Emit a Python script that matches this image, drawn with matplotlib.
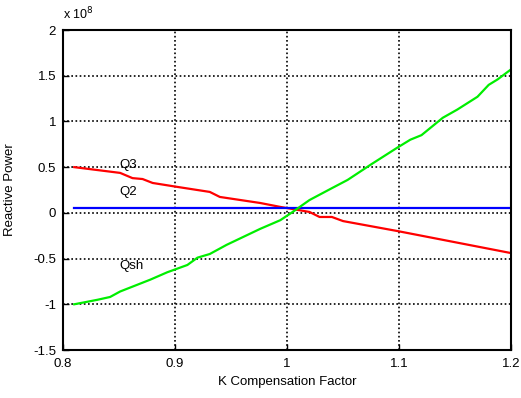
import matplotlib
matplotlib.use("Agg")
import matplotlib.pyplot as plt
import numpy as np

plt.rcParams['font.family'] = ['Liberation Sans', 'DejaVu Sans']

# --- Data (values in units of 1e8) ---
k_q3 = [0.81, 0.851, 0.862, 0.871, 0.880, 0.902, 0.931, 0.940, 0.976, 0.994,
        1.02, 1.029, 1.04, 1.05, 1.099, 1.2]
q3 = [0.50, 0.437, 0.38, 0.37, 0.327, 0.284, 0.229, 0.174, 0.108, 0.065,
      0.01, -0.045, -0.045, -0.09, -0.20, -0.44]

k_q2 = [0.81, 1.2]
q2 = [0.05, 0.05]

k_qsh = [0.81, 0.831, 0.842, 0.851, 0.878, 0.893, 0.911, 0.920, 0.931, 0.946,
         0.976, 0.994, 1.005, 1.02, 1.04, 1.054, 1.075, 1.098, 1.11, 1.12,
         1.139, 1.152, 1.17, 1.18, 1.188, 1.2]
qsh = [-1.0, -0.95, -0.92, -0.86, -0.73, -0.65, -0.57, -0.49, -0.45, -0.35,
       -0.175, -0.08, 0.01, 0.14, 0.27, 0.36, 0.53, 0.71, 0.80, 0.85,
       1.04, 1.13, 1.27, 1.40, 1.46, 1.57]

x_ticks = [0.8, 0.9, 1.0, 1.1, 1.2]
x_ticklabels = ["0.8", "0.9", "1", "1.1", "1.2"]
y_ticks = [-1.5, -1, -0.5, 0, 0.5, 1, 1.5, 2]
y_ticklabels = ["-1.5", "-1", "-0.5", "0", "0.5", "1", "1.5", "2"]

# --- Figure ---
fig = plt.figure(figsize=(5.21, 3.98), dpi=100)
ax = fig.add_axes([0.121, 0.1206, 0.860, 0.804])

ax.plot(k_q3, q3, color="red", lw=1.6)
ax.plot(k_q2, q2, color="blue", lw=1.6)
ax.plot(k_qsh, qsh, color="#00ee00", lw=1.6)

ax.text(0.85, 0.52, "Q3", fontsize=9.5, va="center")
ax.text(0.85, 0.23, "Q2", fontsize=9.5, va="center")
ax.text(0.85, -0.58, "Qsh", fontsize=9.5, va="center")

ax.set_xlim(0.8, 1.2)
ax.set_ylim(-1.5, 2)
ax.set_xticks(x_ticks)
ax.set_xticklabels(x_ticklabels)
ax.set_yticks(y_ticks)
ax.set_yticklabels(y_ticklabels)
ax.tick_params(direction="in", length=4, width=1, labelsize=9.5, colors="black")
ax.tick_params(axis="x", pad=6)
ax.tick_params(axis="y", pad=5)
ax.grid(True, color="black", linestyle=(0, (1, 1.5)), linewidth=1.2)

for sp in ax.spines.values():
    sp.set_linewidth(1.5)

ax.set_xlabel("K Compensation Factor", fontsize=9.5, labelpad=4)
ax.set_ylabel("Reactive Power", fontsize=9.5, labelpad=12)
ax.text(0.0, 1.025, r"x 10$^{8}$", transform=ax.transAxes, fontsize=9, va="bottom")

fig.savefig("out.png", dpi=100)
